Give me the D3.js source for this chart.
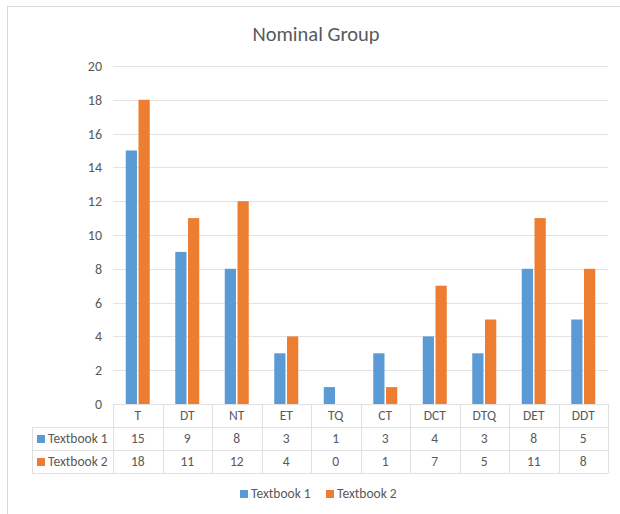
<!DOCTYPE html>
<html><head><meta charset="utf-8">
<script src="https://cdn.jsdelivr.net/npm/d3@7"></script>
<style>body{margin:0;background:#fff;}svg{display:block;font-family:Calibri,Carlito,"Open Sans","Liberation Sans",sans-serif;}</style>
</head><body><div id="chart"></div>
<script>
const categories = ["T","DT","NT","ET","TQ","CT","DCT","DTQ","DET","DDT"];
const seriesNames = ["Textbook 1","Textbook 2"];
const textbook1 = [15,9,8,3,1,3,4,3,8,5];
const textbook2 = [18,11,12,4,0,1,7,5,11,8];
const yTicks = [0,2,4,6,8,10,12,14,16,18,20];
const title = "Nominal Group";
const colors = ["#5b9bd5","#ed7d31"];

(function(){
const W=620,H=514;
const svg=d3.select("#chart").append("svg").attr("width",W).attr("height",H);
svg.append("rect").attr("x",7.5).attr("y",6.5).attr("width",W).attr("height",H).attr("fill","#fff").attr("stroke","#d9d9d9");

const pLeft=113,pRight=608,pTop=66,pBottom=404;
const x=d3.scaleBand().domain(categories).range([pLeft,pRight]);
const y=d3.scaleLinear().domain([0,20]).range([pBottom,pTop]);
const xs=d3.scaleBand().domain(seriesNames).range([0,x.bandwidth()]).paddingInner(0.12).paddingOuter(1.0);

svg.append("text").attr("x",316).attr("y",41).attr("text-anchor","middle").attr("font-size",20.5).attr("fill","#595959").text(title);

svg.append("g").selectAll("line").data(yTicks).join("line")
 .attr("x1",pLeft).attr("x2",pRight).attr("y1",d=>Math.round(y(d))+0.5).attr("y2",d=>Math.round(y(d))+0.5)
 .attr("stroke","#e3e3e3");
const yAxis=d3.axisLeft(y).tickValues(yTicks).tickSize(0).tickPadding(10);
const ga=svg.append("g").attr("transform",`translate(${pLeft-1},0)`).call(yAxis);
ga.select(".domain").remove();
ga.selectAll("text").attr("font-size",14).attr("fill","#595959").attr("font-family","Calibri,Carlito,'Open Sans',sans-serif");

const data=[textbook1,textbook2];
data.forEach((vals,si)=>{
 svg.append("g").selectAll("rect").data(categories).join("rect")
  .attr("x",(c)=>x(c)+xs(seriesNames[si]))
  .attr("width",xs.bandwidth())
  .attr("y",(c,i)=>y(vals[i]))
  .attr("height",(c,i)=>y(0)-y(vals[i]))
  .attr("fill",colors[si]);
});

const rowH=23, tLeft=32;
const rows=[pBottom, pBottom+rowH, pBottom+2*rowH, pBottom+3*rowH];
const tg=svg.append("g").attr("stroke","#e0e0e0").attr("fill","none");
tg.append("line").attr("x1",pLeft).attr("x2",pRight).attr("y1",rows[0]+0.5).attr("y2",rows[0]+0.5);
[1,2,3].forEach(r=>tg.append("line").attr("x1",tLeft).attr("x2",pRight).attr("y1",rows[r]+0.5).attr("y2",rows[r]+0.5));
tg.append("line").attr("x1",tLeft+0.5).attr("x2",tLeft+0.5).attr("y1",rows[1]).attr("y2",rows[3]);
categories.forEach(c=>tg.append("line").attr("x1",Math.round(x(c))+0.5).attr("x2",Math.round(x(c))+0.5).attr("y1",rows[0]).attr("y2",rows[3]));
tg.append("line").attr("x1",pRight+0.5).attr("x2",pRight+0.5).attr("y1",rows[0]).attr("y2",rows[3]);

svg.append("g").selectAll("text").data(categories).join("text")
 .attr("x",c=>x(c)+x.bandwidth()/2).attr("y",rows[0]+16).attr("text-anchor","middle")
 .attr("font-size",13.5).attr("fill","#595959").text(c=>c);
data.forEach((vals,si)=>{
 svg.append("g").selectAll("text").data(categories).join("text")
  .attr("x",c=>x(c)+x.bandwidth()/2).attr("y",rows[si+1]+16).attr("text-anchor","middle")
  .attr("font-size",13.5).attr("fill","#595959").text((c,i)=>vals[i]);
 svg.append("rect").attr("x",tLeft+5).attr("y",rows[si+1]+8).attr("width",8).attr("height",8).attr("fill",colors[si]);
 svg.append("text").attr("x",tLeft+16).attr("y",rows[si+1]+16).attr("font-size",13.5).attr("fill","#595959").text(seriesNames[si]);
});

const lg=[{x:240,n:0},{x:326,n:1}];
lg.forEach(l=>{
 svg.append("rect").attr("x",l.x).attr("y",490).attr("width",8).attr("height",8).attr("fill",colors[l.n]);
 svg.append("text").attr("x",l.x+11).attr("y",498).attr("font-size",13.5).attr("fill","#595959").text(seriesNames[l.n]);
});
})();
</script></body></html>
